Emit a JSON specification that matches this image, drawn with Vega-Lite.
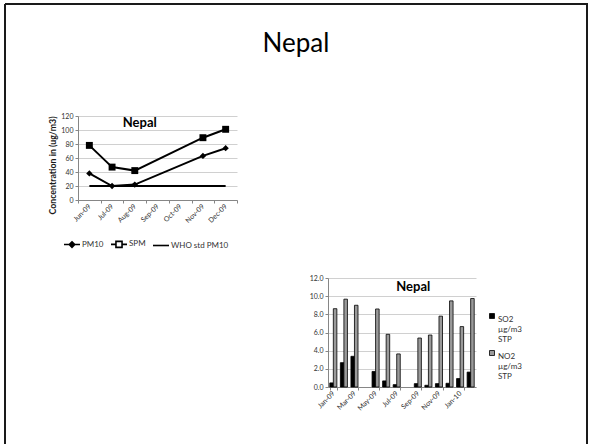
{
  "$schema": "https://vega.github.io/schema/vega-lite/v6.json",
  "autosize": "none",
  "width": 582,
  "height": 440,
  "padding": {"left": 5, "top": 4, "right": 5, "bottom": 0},
  "background": "white",
  "title": {
    "text": "Nepal",
    "font": "Lato",
    "fontSize": 26,
    "fontWeight": "normal",
    "color": "black",
    "anchor": "middle",
    "frame": "group",
    "baseline": "alphabetic",
    "offset": 0,
    "dy": 74
  },
  "config": {
    "font": "Lato",
    "view": {"stroke": "#1a1a1a", "strokeWidth": 2, "strokeDash": [1022, 582, 440, 0]}
  },
  "datasets": {
    "air": [
      {"month": "Jun-09", "series": "PM10", "value": 38},
      {"month": "Jul-09", "series": "PM10", "value": 20},
      {"month": "Aug-09", "series": "PM10", "value": 22},
      {"month": "Nov-09", "series": "PM10", "value": 63},
      {"month": "Dec-09", "series": "PM10", "value": 74},
      {"month": "Jun-09", "series": "SPM", "value": 78},
      {"month": "Jul-09", "series": "SPM", "value": 47},
      {"month": "Aug-09", "series": "SPM", "value": 42},
      {"month": "Nov-09", "series": "SPM", "value": 89},
      {"month": "Dec-09", "series": "SPM", "value": 101},
      {"month": "Jun-09", "series": "WHO std PM10", "value": 20},
      {"month": "Jul-09", "series": "WHO std PM10", "value": 20},
      {"month": "Aug-09", "series": "WHO std PM10", "value": 20},
      {"month": "Sep-09", "series": "WHO std PM10", "value": 20},
      {"month": "Oct-09", "series": "WHO std PM10", "value": 20},
      {"month": "Nov-09", "series": "WHO std PM10", "value": 20},
      {"month": "Dec-09", "series": "WHO std PM10", "value": 20}
    ],
    "gases": [
      {"month": "Jan-09", "series": "SO2 µg/m3 STP", "value": 0.45},
      {"month": "Feb-09", "series": "SO2 µg/m3 STP", "value": 2.68},
      {"month": "Mar-09", "series": "SO2 µg/m3 STP", "value": 3.38},
      {"month": "May-09", "series": "SO2 µg/m3 STP", "value": 1.71},
      {"month": "Jun-09", "series": "SO2 µg/m3 STP", "value": 0.67},
      {"month": "Jul-09", "series": "SO2 µg/m3 STP", "value": 0.26},
      {"month": "Sep-09", "series": "SO2 µg/m3 STP", "value": 0.37},
      {"month": "Oct-09", "series": "SO2 µg/m3 STP", "value": 0.19},
      {"month": "Nov-09", "series": "SO2 µg/m3 STP", "value": 0.37},
      {"month": "Dec-09", "series": "SO2 µg/m3 STP", "value": 0.41},
      {"month": "Jan-10", "series": "SO2 µg/m3 STP", "value": 0.93},
      {"month": "Feb-10", "series": "SO2 µg/m3 STP", "value": 1.64},
      {"month": "Jan-09", "series": "NO2 µg/m3 STP", "value": 8.62},
      {"month": "Feb-09", "series": "NO2 µg/m3 STP", "value": 9.67},
      {"month": "Mar-09", "series": "NO2 µg/m3 STP", "value": 9.0},
      {"month": "May-09", "series": "NO2 µg/m3 STP", "value": 8.59},
      {"month": "Jun-09", "series": "NO2 µg/m3 STP", "value": 5.8},
      {"month": "Jul-09", "series": "NO2 µg/m3 STP", "value": 3.64},
      {"month": "Sep-09", "series": "NO2 µg/m3 STP", "value": 5.39},
      {"month": "Oct-09", "series": "NO2 µg/m3 STP", "value": 5.72},
      {"month": "Nov-09", "series": "NO2 µg/m3 STP", "value": 7.8},
      {"month": "Dec-09", "series": "NO2 µg/m3 STP", "value": 9.48},
      {"month": "Jan-10", "series": "NO2 µg/m3 STP", "value": 6.65},
      {"month": "Feb-10", "series": "NO2 µg/m3 STP", "value": 9.74}
    ]
  },
  "layer": [
    {
      "layer": [
        {
          "data": {"name": "air"},
          "mark": {"type": "line", "color": "black", "strokeWidth": 2},
          "encoding": {
            "x": {
              "field": "month", "type": "ordinal", "sort": null,
              "scale": {"type": "band", "domain": ["Jun-09", "Jul-09", "Aug-09", "Sep-09", "Oct-09", "Nov-09", "Dec-09"], "range": [73, 232], "paddingInner": 0, "paddingOuter": 0},
              "axis": {
                "orient": "bottom", "offset": -244, "title": null,
                "labelAngle": -45, "labelAlign": "right", "labelBaseline": "middle",
                "labelFontSize": 7, "labelColor": "#333333", "labelPadding": 2,
                "tickBand": "extent", "tickSize": 3, "tickColor": "#868686",
                "domainColor": "#868686", "grid": false
              }
            },
            "y": {
              "field": "value", "type": "quantitative",
              "scale": {"domain": [0, 120], "range": [196, 112], "nice": false, "zero": true},
              "axis": {
                "orient": "left", "offset": -73,
                "values": [0, 20, 40, 60, 80, 100, 120],
                "title": "Concentration in (ug/m3)", "titleFontSize": 8.8, "titleFontWeight": "bold", "titleColor": "#1a1a1a", "titlePadding": 3, "titleY": 161,
                "labelFontSize": 7, "labelColor": "#333333", "labelPadding": 2,
                "tickSize": 3, "tickColor": "#868686", "domainColor": "#868686",
                "grid": true, "gridColor": "#d0d0d0"
              }
            },
            "detail": {"field": "series", "type": "nominal"}
          }
        },
        {
          "data": {"name": "air"},
          "transform": [{"filter": "datum.series === 'PM10'"}],
          "mark": {"type": "point", "shape": "diamond", "filled": true, "color": "black", "size": 40, "opacity": 1},
          "encoding": {
            "x": {"field": "month", "type": "ordinal", "sort": null},
            "y": {"field": "value", "type": "quantitative"}
          }
        },
        {
          "data": {"name": "air"},
          "transform": [{"filter": "datum.series === 'SPM'"}],
          "mark": {"type": "point", "shape": "square", "filled": true, "color": "black", "size": 48, "opacity": 1},
          "encoding": {
            "x": {"field": "month", "type": "ordinal", "sort": null},
            "y": {"field": "value", "type": "quantitative"}
          }
        },
        {
          "data": {"values": [{}]},
          "mark": {"type": "text", "text": "Nepal", "font": "Lato", "fontSize": 13, "fontWeight": "bold", "color": "black", "baseline": "middle", "dx": 5},
          "encoding": {
            "x": {"datum": "Aug-09", "type": "ordinal"},
            "y": {"datum": 110, "type": "quantitative"}
          }
        },
        {
          "data": {"values": []},
          "mark": {"type": "point", "filled": false, "color": "black", "strokeWidth": 1.6, "opacity": 1},
          "encoding": {
            "shape": {
              "field": "series", "type": "nominal",
              "scale": {
                "domain": ["PM10", "SPM", "WHO std PM10"],
                "range": [
                  "M-1,0L1,0M0,-0.34L0.34,0L0,0.34L-0.34,0ZM0,-0.18L0.18,0L0,0.18L-0.18,0Z",
                  "M-1,0L-0.38,0M0.38,0L1,0M-0.38,-0.38L0.38,-0.38L0.38,0.38L-0.38,0.38Z",
                  "M-1,0L1,0"
                ]
              },
              "legend": {
                "orient": "none", "legendX": 58, "legendY": 231,
                "direction": "horizontal", "title": null,
                "symbolSize": 256, "symbolStrokeWidth": 1.6,
                "symbolStrokeColor": "black", "symbolOpacity": 1,
                "labelFontSize": 8, "labelColor": "#333333", "labelOffset": 1,
                "columnPadding": 3
              }
            }
          }
        }
      ]
    },
    {
      "layer": [
        {
          "data": {"name": "gases"},
          "mark": {"type": "bar", "stroke": "black", "strokeWidth": 0.8},
          "encoding": {
            "x": {
              "field": "month", "type": "ordinal", "sort": null,
              "scale": {"type": "band", "domain": ["Jan-09", "Feb-09", "Mar-09", "Apr-09", "May-09", "Jun-09", "Jul-09", "Aug-09", "Sep-09", "Oct-09", "Nov-09", "Dec-09", "Jan-10", "Feb-10"], "range": [323, 471], "paddingInner": 0.33, "paddingOuter": 0.17},
              "axis": {
                "orient": "bottom", "offset": -57, "title": null,
                "values": ["Jan-09", "Mar-09", "May-09", "Jul-09", "Sep-09", "Nov-09", "Jan-10"],
                "labelAngle": -45, "labelAlign": "right", "labelBaseline": "middle",
                "labelFontSize": 7, "labelColor": "#333333", "labelPadding": 2,
                "tickBand": "extent", "tickSize": 3, "tickColor": "#868686",
                "domainColor": "#868686", "grid": false
              }
            },
            "xOffset": {
              "field": "series", "type": "nominal", "sort": null,
              "scale": {"domain": ["SO2 µg/m3 STP", "NO2 µg/m3 STP"], "paddingInner": 0}
            },
            "y": {
              "field": "value", "type": "quantitative",
              "scale": {"domain": [0, 12], "range": [383, 274], "nice": false},
              "axis": {
                "orient": "left", "offset": -323,
                "values": [0, 2, 4, 6, 8, 10, 12], "format": ".1f", "title": null,
                "labelFontSize": 7, "labelColor": "#333333", "labelPadding": 2,
                "tickSize": 3, "tickColor": "#868686", "domainColor": "#868686",
                "grid": true, "gridColor": "#d0d0d0"
              }
            },
            "fill": {
              "field": "series", "type": "nominal", "sort": null,
              "scale": {"domain": ["SO2 µg/m3 STP", "NO2 µg/m3 STP"], "range": ["black", "#9a9a9a"]},
              "legend": {
                "orient": "none", "legendX": 483, "legendY": 308,
                "title": null, "symbolType": "square", "symbolSize": 25,
                "symbolStrokeColor": "black", "symbolStrokeWidth": 0.8,
                "labelFontSize": 8, "labelColor": "#333333", "labelOffset": 2,
                "labelBaseline": "top", "labelExpr": "split(datum.label, ' ')",
                "rowPadding": 4
              }
            }
          }
        },
        {
          "data": {"values": [{}]},
          "mark": {"type": "text", "text": "Nepal", "font": "Lato", "fontSize": 13, "fontWeight": "bold", "color": "black", "baseline": "middle", "dx": 6},
          "encoding": {
            "x": {"datum": "Aug-09", "type": "ordinal"},
            "y": {"datum": 11, "type": "quantitative"}
          }
        }
      ]
    }
  ],
  "resolve": {
    "scale": {"x": "independent", "y": "independent"},
    "axis": {"x": "independent", "y": "independent"},
    "legend": {"shape": "independent", "fill": "independent"}
  }
}
